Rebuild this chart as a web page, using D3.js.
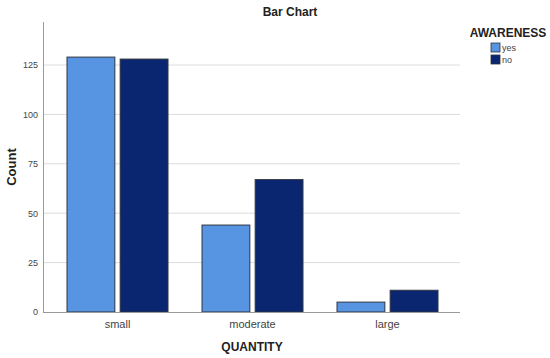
<!DOCTYPE html>
<html><head><meta charset="utf-8">
<script src="https://cdn.jsdelivr.net/npm/d3@7"></script>
<style>body{margin:0;background:#fff}text{font-family:"Liberation Sans",Arial,sans-serif}</style>
</head><body>
<svg id="c" width="550" height="358"></svg>
<script>
const categories = ["small", "moderate", "large"];
const seriesNames = ["yes", "no"];
const yesValues = [129, 44, 5];
const noValues = [128, 67, 11];
const yTicks = [0, 25, 50, 75, 100, 125];
const colors = ["#5794e2", "#0a2670"];

const svg = d3.select("#c");
const pLeft = 43, pRight = 460, pTop = 22, pBottom = 312;
const y = d3.scaleLinear().domain([0, 150]).range([pBottom, pBottom - 150 * 1.976]);
const x0 = d3.scaleBand().domain(categories).range([50, 455]).padding(0);
const x1 = d3.scaleBand().domain(seriesNames).range([17, 118]).paddingInner(0.1);

// gridlines
svg.append("g").selectAll("line").data(yTicks.filter(d => d > 0)).join("line")
  .attr("x1", pLeft).attr("x2", pRight).attr("y1", d => y(d)).attr("y2", d => y(d))
  .attr("stroke", "#dcdcdc").attr("stroke-width", 1);

// y axis
const yAxis = d3.axisLeft(y).tickValues(yTicks).tickSize(0).tickPadding(5);
const gy = svg.append("g").attr("transform", `translate(${pLeft},0)`).call(yAxis);
gy.select(".domain").remove();
gy.selectAll("text").attr("font-size", 9).attr("fill", "#444");
svg.append("line").attr("x1", pLeft + 0.5).attr("x2", pLeft + 0.5).attr("y1", pTop).attr("y2", pBottom)
  .attr("stroke", "#999");

// x axis
const xAxis = d3.axisBottom(x0).tickSize(0).tickPadding(8);
const gx = svg.append("g").attr("transform", `translate(0,${pBottom})`).call(xAxis);
gx.select(".domain").remove();
gx.selectAll("text").attr("font-size", 11).attr("fill", "#444");

// bars
const data = categories.map((c, i) => ({cat: c, vals: [yesValues[i], noValues[i]]}));
const groups = svg.append("g").selectAll("g").data(data).join("g")
  .attr("transform", d => `translate(${x0(d.cat)},0)`);
groups.selectAll("rect").data(d => d.vals.map((v, j) => ({s: seriesNames[j], v, j}))).join("rect")
  .attr("x", d => x1(d.s)).attr("width", x1.bandwidth())
  .attr("y", d => y(d.v)).attr("height", d => pBottom - y(d.v))
  .attr("fill", d => colors[d.j]).attr("stroke", "#2e3440").attr("stroke-width", 1);

svg.append("line").attr("x1", pLeft).attr("x2", pRight).attr("y1", pBottom + 0.5).attr("y2", pBottom + 0.5)
  .attr("stroke", "#999");

// titles
svg.append("text").attr("x", 290).attr("y", 16).attr("text-anchor", "middle")
  .attr("font-size", 12).attr("font-weight", "bold").attr("fill", "#222").text("Bar Chart");
svg.append("text").attr("transform", "translate(16,167) rotate(-90)").attr("text-anchor", "middle")
  .attr("font-size", 13).attr("font-weight", "bold").attr("fill", "#222").text("Count");
svg.append("text").attr("x", 252).attr("y", 351).attr("text-anchor", "middle")
  .attr("font-size", 12).attr("font-weight", "bold").attr("fill", "#222").text("QUANTITY");

// legend
svg.append("text").attr("x", 508).attr("y", 37).attr("text-anchor", "middle")
  .attr("font-size", 12).attr("font-weight", "bold").attr("fill", "#222").text("AWARENESS");
const lg = svg.append("g").selectAll("g").data(seriesNames).join("g")
  .attr("transform", (d, i) => `translate(491,${43 + i * 12})`);
lg.append("rect").attr("width", 9).attr("height", 9).attr("fill", (d, i) => colors[i])
  .attr("stroke", "#2e3440").attr("stroke-width", 0.8);
lg.append("text").attr("x", 11).attr("y", 8).attr("font-size", 9).attr("fill", "#444").text(d => d);
</script>
</body></html>
